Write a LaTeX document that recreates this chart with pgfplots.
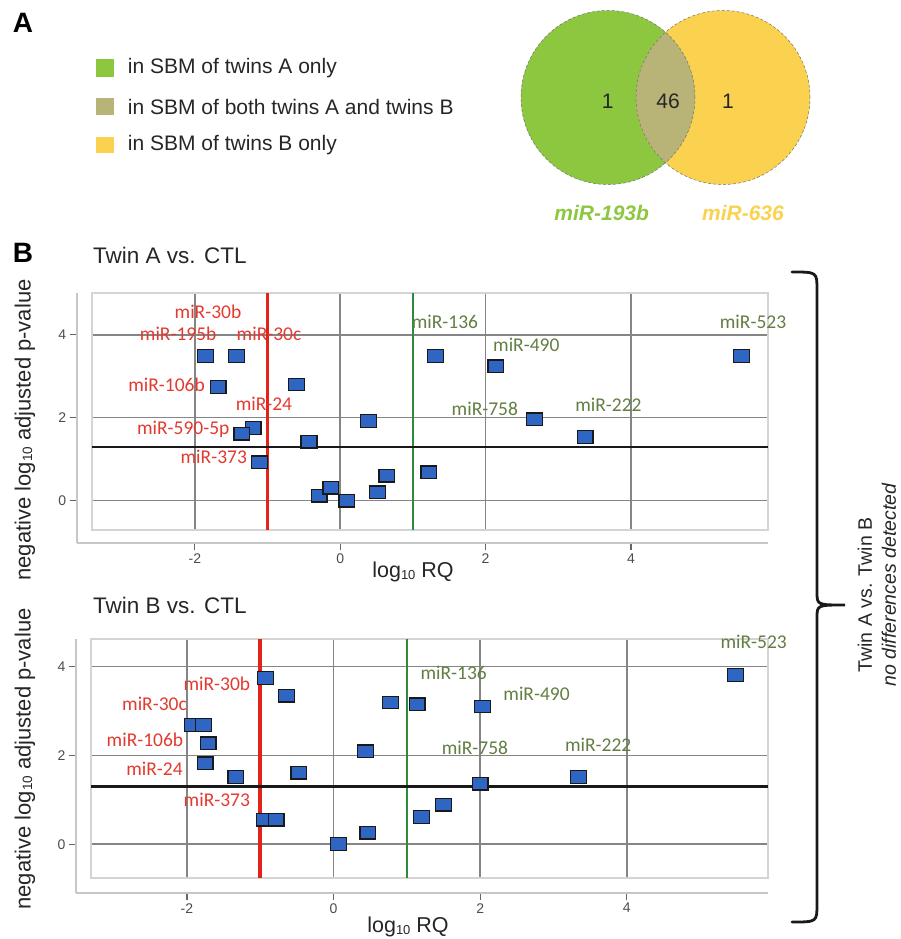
\documentclass[border=0pt]{standalone}
\usepackage{pgfplots}
\pgfplotsset{compat=1.18}
\usepackage{pgfplotstable}
\usepackage{fontspec}
\setmainfont{Liberation Sans}
\newfontfamily\calfont{Carlito}
\definecolor{vgreen}{HTML}{8DC63F}
\definecolor{vyellow}{HTML}{FAD24F}
\definecolor{vboth}{HTML}{B8B478}
\definecolor{mblue}{HTML}{2F66C4}
\definecolor{lred}{HTML}{E2231A}
\definecolor{lgreen}{HTML}{2E8B3E}
\definecolor{tred}{HTML}{E33A2F}
\definecolor{tgreen}{HTML}{627E42}
\newcommand{\fs}[1]{\fontsize{#1}{#1}\selectfont}

\pgfplotstableread{
x y
-1.855 3.49
-1.43 3.49
-1.68 2.74
-0.60 2.80
-1.20 1.75
-1.355 1.61
-1.11 0.92
-0.43 1.42
0.39 1.92
0.64 0.60
0.51 0.20
-0.29 0.12
-0.13 0.31
0.09 0.00
1.22 0.68
1.31 3.49
2.14 3.24
2.67 1.96
3.37 1.53
5.52 3.49
}\dataA

\pgfplotstableread{
x y
-0.925 3.74
-0.64 3.34
0.78 3.19
1.14 3.15
-1.92 2.68
-1.77 2.68
-1.71 2.27
-1.75 1.82
-1.33 1.51
-0.47 1.61
0.44 2.09
-0.94 0.55
-0.78 0.55
0.066 0.00
0.47 0.26
1.20 0.61
1.50 0.89
2.035 3.10
2.00 1.36
3.34 1.51
5.48 3.81
}\dataB

\pgfplotsset{
  outeraxis/.style={
    anchor=south west, scale only axis,
    axis x line=bottom, axis y line=left,
    axis line style={-, draw=black!22, line width=1.7pt},
    xtick={-2,0,2,4}, xticklabels={{-2},{0},{2},{4}},
    ytick={0,2,4}, yticklabels={{0},{2},{4}},
    tick align=outside, major tick length=7pt,
    tick style={draw=black!60, line width=1.2pt},
    ticklabel style={font=\fs{14}, text=black!70},
  },
  inneraxis/.style={
    anchor=south west, scale only axis, clip=false,
    axis line style={draw=black!17, line width=1.7pt},
    xtick={-2,0,2,4}, ytick={0,2,4},
    xticklabels={}, yticklabels={}, major tick length=0pt,
    grid=major, grid style={draw=black!48, line width=1.6pt},
  },
  sq/.style={only marks, mark=square*, mark size=6.3pt,
    mark options={fill=mblue, draw=black!90, line width=1.3pt, xscale=1.25}},
}
\tikzset{
  lr/.style={text=tred, font=\calfont\fs{19.5}, inner sep=0pt},
  lg/.style={text=tgreen, font=\calfont\fs{19.5}, inner sep=0pt},
}

\begin{document}
\begin{tikzpicture}
\path[use as bounding box] (0pt,0pt) rectangle (900pt,-939pt);

% ---------- Panel A ----------
\node at (23pt,-23pt) {\fs{28}\bfseries A};
\fill[vgreen] (96pt,-59pt) rectangle (114pt,-77pt);
\fill[vboth] (96pt,-98pt) rectangle (114pt,-115pt);
\fill[vyellow] (96pt,-137pt) rectangle (114pt,-153pt);
\node[anchor=west, inner sep=0pt, text=black!85] at (127.7pt,-68pt) {\fs{21}in SBM of twins A only};
\node[anchor=west, inner sep=0pt, text=black!85] at (127.7pt,-106.5pt) {\fs{21}in SBM of both twins A and twins B};
\node[anchor=west, inner sep=0pt, text=black!85] at (127.7pt,-145pt) {\fs{21}in SBM of twins B only};

\fill[vgreen] (608pt,-97.5pt) circle (87pt);
\fill[vyellow] (723pt,-97.5pt) circle (87pt);
\begin{scope}
  \clip (608pt,-97.5pt) circle (87pt);
  \fill[vboth] (723pt,-97.5pt) circle (87pt);
\end{scope}
\draw[black!55, densely dashed, line width=0.5pt] (608pt,-97.5pt) circle (87pt);
\draw[black!55, densely dashed, line width=0.5pt] (723pt,-97.5pt) circle (87pt);
\node[text=black!85] at (607.7pt,-101pt) {\fs{21}1};
\node[text=black!85] at (668pt,-101pt) {\fs{21}46};
\node[text=black!85] at (728pt,-101pt) {\fs{21}1};
\node[text=vgreen] at (601.7pt,-213pt) {\fs{21}\bfseries\itshape miR-193b};
\node[text=vyellow] at (743pt,-213pt) {\fs{21}\bfseries\itshape miR-636};

% ---------- Panel B ----------
\node at (23pt,-253pt) {\fs{28}\bfseries B};
\node[anchor=west, inner sep=0pt, text=black!85] at (93pt,-255pt) {\fs{22.5}Twin A vs. CTL};
\node[anchor=west, inner sep=0pt, text=black!85] at (93pt,-605pt) {\fs{22.5}Twin B vs. CTL};

\node[rotate=90, text=black!85] at (25pt,-430pt) {\fs{22}negative log\raisebox{-1.5pt}{\fs{13.5}10} adjusted p-value};
\node[rotate=90, text=black!85] at (25pt,-759pt) {\fs{22}negative log\raisebox{-1.5pt}{\fs{13.5}10} adjusted p-value};
\node[text=black!85] at (413pt,-572pt) {\fs{21.5}log\raisebox{-1.5pt}{\fs{13}10} RQ};
\node[text=black!85] at (408pt,-927pt) {\fs{21.5}log\raisebox{-1.5pt}{\fs{13}10} RQ};

% top outer axis
\begin{axis}[outeraxis, at={(76.7pt,-543.3pt)}, width=691.6pt, height=250pt,
  xmin=-3.626, xmax=5.89, ymin=-1.03, ymax=5.0]
\end{axis}
% top inner axis
\begin{axis}[inneraxis, at={(91.7pt,-530pt)}, width=676.6pt, height=236.7pt,
  xmin=-3.42, xmax=5.89, ymin=-0.71, ymax=5.0]
\addplot[lred, line width=3.5pt] coordinates {(-1,-0.71) (-1,5)};
\addplot[lgreen, line width=2.5pt] coordinates {(1,-0.71) (1,5)};
\addplot[black!90, line width=2.3pt] coordinates {(-3.42,1.3) (5.89,1.3)};
\addplot[sq] table {\dataA};
\node[lr] at (axis cs:-1.82,4.56) {miR-30b};
\node[lr] at (axis cs:-2.23,4.02) {miR-195b};
\node[lr] at (axis cs:-0.98,4.02) {miR-30c};
\node[lr] at (axis cs:-2.39,2.79) {miR-106b};
\node[lr] at (axis cs:-1.05,2.33) {miR-24};
\node[lr] at (axis cs:-2.16,1.72) {miR-590-5p};
\node[lr] at (axis cs:-1.74,1.06) {miR-373};
\node[lg] at (axis cs:1.44,4.30) {miR-136};
\node[lg] at (axis cs:2.56,3.76) {miR-490};
\node[lg] at (axis cs:1.99,2.21) {miR-758};
\node[lg] at (axis cs:3.69,2.31) {miR-222};
\node[lg] at (axis cs:5.68,4.30) {miR-523};
\end{axis}

% bottom outer axis
\begin{axis}[outeraxis, at={(76pt,-892.7pt)}, width=692.3pt, height=253.7pt,
  xmin=-3.513, xmax=5.93, ymin=-1.09, ymax=4.62]
\end{axis}
% bottom inner axis
\begin{axis}[inneraxis, at={(90.7pt,-878.3pt)}, width=677.6pt, height=239.3pt,
  xmin=-3.31, xmax=5.93, ymin=-0.77, ymax=4.62]
\addplot[lred, line width=3.5pt] coordinates {(-1,-0.77) (-1,4.62)};
\addplot[lgreen, line width=2.5pt] coordinates {(1,-0.77) (1,4.62)};
\addplot[black!90, line width=2.3pt] coordinates {(-3.31,1.3) (5.93,1.3)};
\addplot[sq] table {\dataB};
\node[lr] at (axis cs:-1.59,3.62) {miR-30b};
\node[lr] at (axis cs:-2.44,3.16) {miR-30c};
\node[lr] at (axis cs:-2.57,2.36) {miR-106b};
\node[lr] at (axis cs:-2.44,1.69) {miR-24};
\node[lr] at (axis cs:-1.59,1.00) {miR-373};
\node[lg] at (axis cs:1.64,3.85) {miR-136};
\node[lg] at (axis cs:2.77,3.38) {miR-490};
\node[lg] at (axis cs:1.93,2.16) {miR-758};
\node[lg] at (axis cs:3.61,2.24) {miR-222};
\node[lg] at (axis cs:5.73,4.56) {miR-523};
\end{axis}

% bracket
\draw[line width=2.8pt, black!90, line cap=round]
  (792pt,-272pt) .. controls (817pt,-272pt) .. (817pt,-290pt)
  -- (817pt,-592pt) .. controls (817pt,-605pt) .. (845pt,-605pt)
  .. controls (817pt,-605pt) .. (817pt,-618pt)
  -- (817pt,-904pt) .. controls (817pt,-922pt) .. (792pt,-922pt);
\node[rotate=90, text=black!85] at (865pt,-595pt) {\fs{19.5}Twin A vs. Twin B};
\node[rotate=90, text=black!85] at (889pt,-585pt) {\fs{19.5}\itshape no differences detected};
\end{tikzpicture}
\end{document}
